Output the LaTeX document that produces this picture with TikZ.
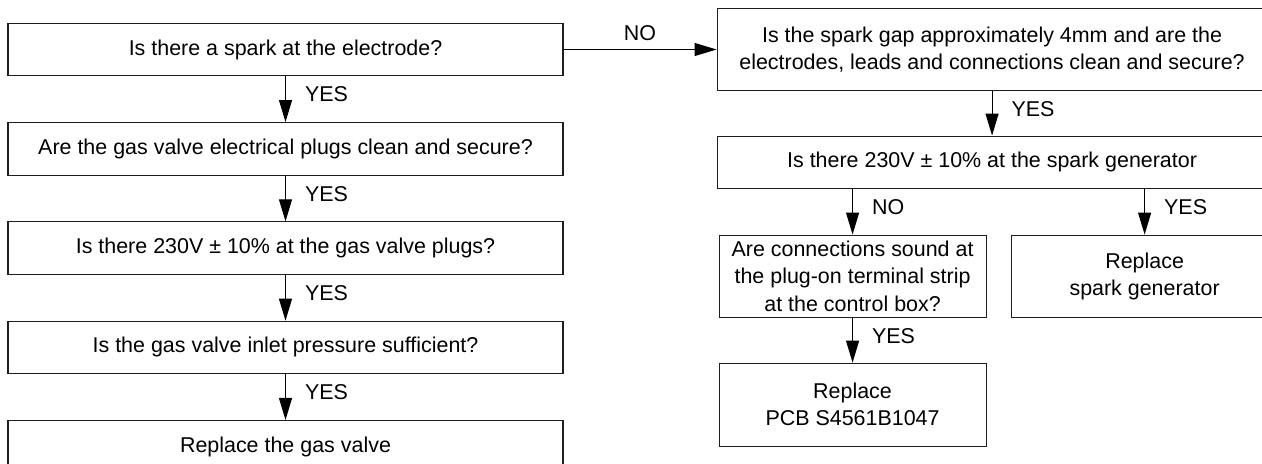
\documentclass[tikz,border=0pt]{standalone}
\usepackage{fontspec}
\setmainfont{Liberation Sans}
\usepackage{tikz}
\usetikzlibrary{arrows.meta, positioning}
\definecolor{linegray}{RGB}{30,30,30}
\tikzset{
  block/.style={rectangle, draw=linegray, line width=0.6pt, text centered,
    align=center, inner sep=2pt, minimum height=1.05cm,
    font=\fontsize{12.2}{15.5}\selectfont},
  qblock/.style={block, minimum width=11.1cm},
  sblock/.style={block, minimum width=5.34cm, minimum height=1.64cm},
  arrow/.style={-{Triangle[length=0.44cm, width=0.26cm]}, line width=0.6pt, color=black},
  anslabel/.style={pos=0.4, anchor=west, inner sep=0pt, xshift=0.38cm,
    font=\fontsize{12.2}{15.5}\selectfont},
}

\begin{document}
\begin{tikzpicture}
  \useasboundingbox (0,0) rectangle (25.24,-9.26);
  % left column
  \node[qblock] (spark) at (5.71,-0.99) {Is there a spark at the electrode?};
  \node[qblock, below=0.915cm of spark] (plugs) {Are the gas valve electrical plugs clean and secure?};
  \node[qblock, below=0.915cm of plugs] (volts) {Is there 230V ± 10\% at the gas valve plugs?};
  \node[qblock, below=0.915cm of volts] (inlet) {Is the gas valve inlet pressure sufficient?};
  \node[qblock, below=0.915cm of inlet] (valve) {Replace the gas valve};

  % right column
  \node[block, right=3.06cm of spark, minimum width=11cm, minimum height=1.64cm]
    (gap) {Is the spark gap approximately 4mm and are the\\electrodes, leads and connections clean and secure?};
  \node[block, below=0.89cm of gap, minimum width=11cm, minimum height=1.04cm]
    (genvolts) {Is there 230V ± 10\% at the spark generator};
  \node[sblock, below right=0.92cm and 0.04cm of genvolts.south west]
    (conn) {Are connections sound at\\the plug-on terminal strip\\at the control box?};
  \node[sblock, right=0.48cm of conn] (sparkgen) {Replace\\spark generator};
  \node[sblock, below=0.9cm of conn, minimum height=1.66cm] (pcb) {Replace\\PCB S4561B1047};

  \draw[arrow] (spark.east) -- (gap.west)
    node[midway, above, inner sep=0pt, yshift=0.16cm, font=\fontsize{12.2}{15.5}\selectfont]{NO};
  \draw[arrow] (spark.south) -- (plugs.north) node[anslabel]{YES};
  \draw[arrow] (plugs.south) -- (volts.north) node[anslabel]{YES};
  \draw[arrow] (volts.south) -- (inlet.north) node[anslabel]{YES};
  \draw[arrow] (inlet.south) -- (valve.north) node[anslabel]{YES};
  \draw[arrow] (gap.south) -- (genvolts.north) node[anslabel]{YES};
  \draw[arrow] (conn.north |- genvolts.south) -- (conn.north) node[anslabel]{NO};
  \draw[arrow] (sparkgen.north |- genvolts.south) -- (sparkgen.north) node[anslabel]{YES};
  \draw[arrow] (conn.south) -- (pcb.north) node[anslabel]{YES};
\end{tikzpicture}
\end{document}
